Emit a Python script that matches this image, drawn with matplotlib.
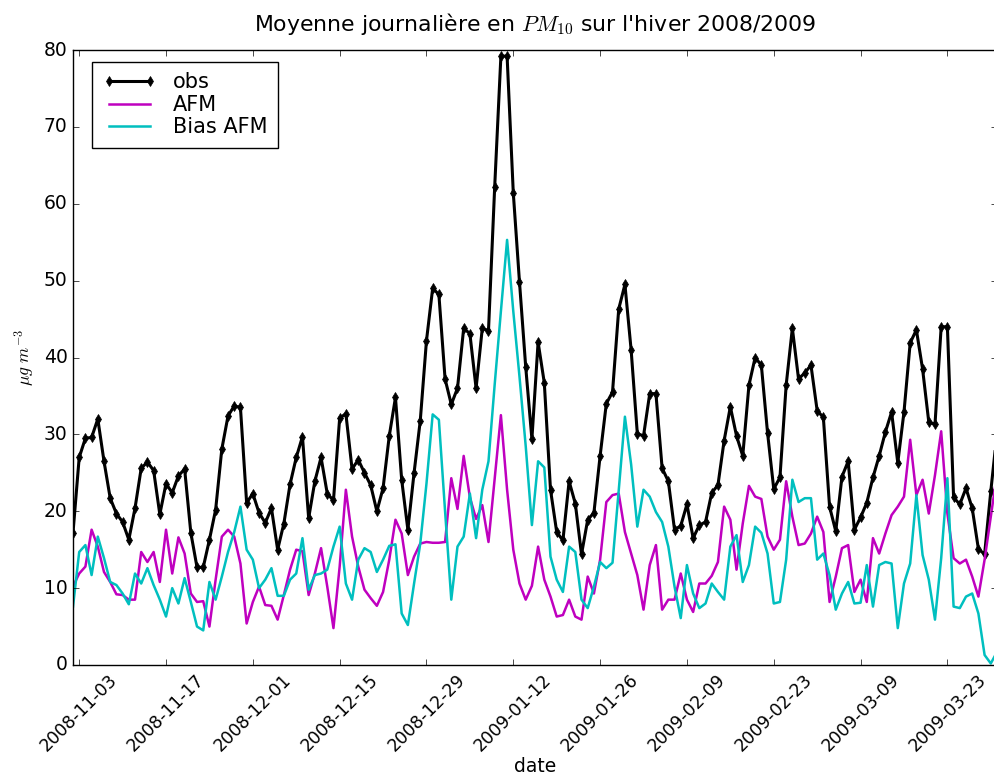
import matplotlib
matplotlib.use("Agg")
import matplotlib.pyplot as plt
import matplotlib.dates as mdates
import pandas as pd
import numpy as np

plt.style.use("classic")
plt.rcParams["font.family"] = ["DejaVu Sans"]

start_date = "2008-11-02"
n_days = 150
tick_dates = ["2008-11-03", "2008-11-17", "2008-12-01", "2008-12-15", "2008-12-29",
              "2009-01-12", "2009-01-26", "2009-02-09", "2009-02-23", "2009-03-09",
              "2009-03-23"]

obs = [17.2, 27.0, 29.5, 29.6, 32.0, 26.5, 21.7, 19.7, 18.6, 16.3,
       20.4, 25.6, 26.4, 25.3, 19.6, 23.6, 22.4, 24.6, 25.5, 17.2,
       12.7, 12.7, 16.3, 20.2, 28.1, 32.4, 33.7, 33.5, 21.1, 22.3,
       19.8, 18.5, 20.4, 15.0, 18.4, 23.5, 27.0, 29.7, 19.1, 23.9,
       27.0, 22.3, 21.4, 32.1, 32.7, 25.5, 26.7, 25.0, 23.4, 20.0,
       23.0, 29.8, 34.8, 24.1, 17.6, 25.0, 31.8, 42.2, 49.0, 48.2,
       37.2, 33.9, 36.0, 43.8, 43.1, 36.0, 43.8, 43.5, 62.2, 79.2,
       79.2, 61.4, 49.8, 38.8, 29.4, 42.0, 36.7, 22.8, 17.3, 16.2,
       23.9, 21.0, 14.4, 18.9, 19.8, 27.2, 34.0, 35.5, 46.3, 49.5,
       41.0, 30.1, 29.8, 35.3, 35.3, 25.6, 23.9, 17.6, 18.1, 20.9,
       16.5, 18.2, 18.6, 22.4, 23.4, 29.2, 33.6, 29.8, 27.2, 36.4,
       40.0, 39.0, 30.2, 22.9, 24.4, 36.4, 43.8, 37.2, 38.0, 39.0,
       33.1, 32.2, 20.6, 17.4, 24.5, 26.5, 17.6, 19.2, 21.1, 24.4,
       27.2, 30.3, 32.9, 26.3, 32.9, 41.9, 43.6, 38.5, 31.6, 31.3,
       44.0, 44.0, 21.8, 20.9, 23.0, 20.4, 15.1, 14.4, 22.6, 30.2]

afm = [10.2, 11.9, 12.8, 17.6, 15.4, 12.1, 10.8, 9.2, 9.1, 8.5,
       8.5, 14.7, 13.4, 14.7, 10.8, 17.6, 11.9, 16.6, 14.5, 9.3,
       8.2, 8.3, 5.0, 11.1, 16.7, 17.6, 16.7, 13.2, 5.4, 8.2,
       10.2, 7.8, 7.7, 5.9, 9.1, 12.4, 15.0, 14.8, 9.1, 11.9,
       15.2, 10.2, 4.8, 12.8, 22.8, 16.7, 12.8, 9.8, 8.7, 7.7,
       9.5, 13.7, 18.9, 17.1, 11.7, 14.1, 15.8, 16.0, 15.9, 15.9,
       16.0, 24.3, 20.3, 27.2, 21.8, 19.0, 20.8, 16.0, 24.3, 32.5,
       22.8, 15.0, 10.6, 8.5, 10.3, 15.4, 11.1, 8.9, 6.3, 6.5,
       8.5, 6.3, 5.9, 11.5, 9.3, 13.7, 21.2, 22.1, 22.3, 17.3,
       14.5, 11.7, 7.2, 13.0, 15.6, 7.2, 8.5, 8.5, 11.9, 8.5,
       6.9, 10.6, 10.6, 11.6, 13.4, 20.6, 18.9, 12.4, 18.4, 23.3,
       21.9, 21.6, 16.7, 15.0, 16.3, 23.9, 19.3, 15.6, 15.8, 17.1,
       19.3, 17.3, 8.2, 11.5, 15.2, 15.6, 9.5, 11.1, 8.2, 16.5,
       14.5, 17.1, 19.5, 20.6, 21.9, 29.3, 22.1, 24.1, 19.7, 24.7,
       30.4, 19.7, 13.9, 13.2, 13.7, 11.5, 8.9, 13.7, 19.3, 24.9]

bias_afm = [7.6, 14.7, 15.6, 11.7, 16.7, 13.9, 10.8, 10.4, 9.3, 7.9,
            11.9, 10.6, 12.6, 10.4, 8.5, 6.3, 10.0, 8.0, 11.3, 8.2,
            5.0, 4.5, 10.8, 8.5, 11.5, 14.7, 17.3, 20.6, 15.0, 13.7,
            10.0, 11.1, 12.6, 9.0, 9.0, 11.1, 11.9, 16.5, 9.8, 11.7,
            11.9, 12.4, 15.4, 18.0, 10.6, 8.5, 13.7, 15.2, 14.7, 12.1,
            13.7, 15.5, 15.7, 6.7, 5.2, 10.6, 15.8, 23.6, 32.6, 31.9,
            20.0, 8.5, 15.4, 16.7, 22.3, 16.5, 22.8, 26.5, 36.5, 46.0,
            55.3, 46.0, 37.5, 28.5, 18.2, 26.5, 25.7, 14.1, 11.1, 9.5,
            15.4, 14.7, 8.5, 7.4, 10.2, 13.4, 12.6, 13.3, 22.7, 32.3,
            26.1, 18.0, 22.8, 21.9, 19.9, 18.6, 15.4, 10.2, 6.1, 13.0,
            9.3, 7.4, 8.0, 10.6, 9.5, 8.5, 15.4, 16.9, 10.8, 13.0,
            18.0, 17.2, 14.5, 8.0, 8.2, 13.7, 24.1, 21.2, 21.7, 21.7,
            13.7, 14.5, 11.7, 7.2, 9.3, 10.8, 8.0, 8.1, 13.0, 7.6,
            13.0, 13.4, 13.2, 4.8, 10.6, 13.2, 22.1, 14.3, 11.1, 5.9,
            13.9, 24.3, 7.6, 7.4, 8.9, 9.3, 6.7, 1.3, 0.2, 1.7]

dates = pd.date_range(start_date, periods=n_days, freq="D")
ticks = pd.to_datetime(tick_dates)

fig = plt.figure(figsize=(9.95, 7.8), dpi=100, facecolor="white")
ax = fig.add_axes([73 / 995, 1 - 665 / 780, 924 / 995, 615 / 780])
ax.set_facecolor("white")

ax.plot(dates, obs, color="k", marker="d", markersize=5.5, linewidth=2.2,
        markeredgecolor="k", markerfacecolor="k", label="obs")
ax.plot(dates, afm, color="m", linewidth=1.8, label="AFM")
ax.plot(dates, bias_afm, color="c", linewidth=1.8, label="Bias AFM")

ax.set_xlim(dates[0], dates[-1])
ax.set_ylim(0, 80)
ax.set_yticks(np.arange(0, 81, 10))
ax.set_xticks(ticks)
ax.xaxis.set_major_formatter(mdates.DateFormatter("%Y-%m-%d"))
ax.tick_params(axis="y", labelsize=13.5)
ax.tick_params(axis="x", labelsize=12.5)
for lbl in ax.get_xticklabels():
    lbl.set_rotation(45)

ax.set_title(r"Moyenne journalière en $PM_{10}$ sur l'hiver 2008/2009",
             fontsize=15.8, y=1.02)
ax.set_xlabel("date", fontsize=13.5, labelpad=2)
ax.set_ylabel(r"$\mu g\ m^{-3}$", fontsize=12.5)

leg = ax.legend(loc="upper left", bbox_to_anchor=(19 / 924, 1 - 12 / 615),
                borderaxespad=0, fontsize=15, numpoints=2, handlelength=2.6,
                handletextpad=0.8, labelspacing=0.12, borderpad=0.5)
leg.get_frame().set_edgecolor("k")

fig.savefig("out.png", dpi=100, facecolor="white")
